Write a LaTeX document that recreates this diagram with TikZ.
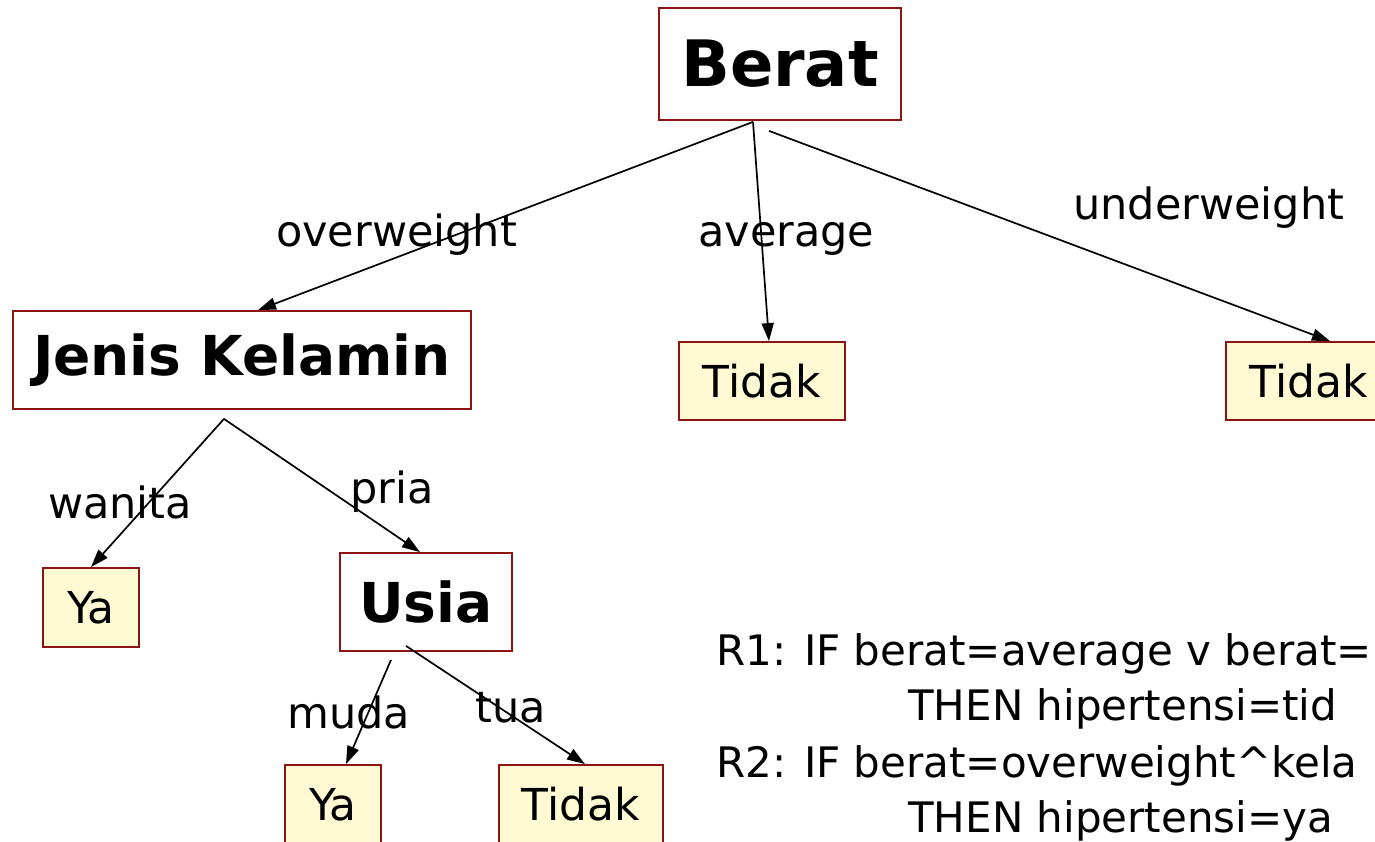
\documentclass[tikz,border=0pt]{standalone}
\usepackage{fontspec}
\setmainfont{DejaVu Sans}
\usetikzlibrary{arrows.meta,calc}
\definecolor{boxred}{HTML}{8E1414}
\definecolor{leafyel}{HTML}{FFF9D4}
\begin{document}
\begin{tikzpicture}[x=1pt,y=-1pt,
  inner/.style={draw=boxred,line width=1.8pt,fill=white,inner sep=0pt,font=\bfseries\fontsize{55}{60}\selectfont},
  leaf/.style={draw=boxred,line width=1.8pt,fill=leafyel,inner sep=0pt,font=\fontsize{44}{50}\selectfont,minimum width=96pt,minimum height=79pt},
  lbl/.style={anchor=base west,inner sep=0pt,font=\fontsize{43}{50}\selectfont},
  rule/.style={anchor=base west,inner sep=0pt,font=\fontsize{42}{50}\selectfont},
  conn/.style={line width=1.7pt,-{Triangle[length=18pt,width=12pt]}}]
\useasboundingbox (0,0) rectangle (1375,842);
\clip (0,0) rectangle (1375,842);
\fill[white] (0,0) rectangle (1375,842);
% nodes
\node[inner,minimum width=242pt,minimum height=112pt,font=\bfseries\fontsize{64}{70}\selectfont] (berat) at (780,64) {Berat};
\node[inner,minimum width=458pt,minimum height=98pt] (jenis) at (242,360) {Jenis Kelamin};
\node[leaf,minimum width=166pt,minimum height=78pt] (tidak1) at (762,381) {Tidak};
\node[leaf,minimum width=166pt,minimum height=78pt] (tidak2) at (1309,381) {Tidak};
\node[leaf] (ya1) at (91,607.5) {Ya};
\node[inner,minimum width=172pt,minimum height=98pt] (usia) at (426,602) {Usia};
\node[leaf] (ya2) at (333,804.5) {Ya};
\node[leaf,minimum width=164pt] (tidak3) at (581,804.5) {Tidak};
% connector start points
\coordinate (bs) at ($(berat.south)+(-27,1)$);
\coordinate (bs2) at ($(berat.south)+(-11,10)$);
\coordinate (js) at ($(jenis.south)+(-18,9)$);
\coordinate (us1) at ($(usia.south)+(-35,8)$);
\coordinate (us2) at ($(usia.south)+(-20,-6)$);
% connectors
\draw[conn] (bs) -- ($(jenis.north)+(16,0)$);
\draw[conn] (bs) -- ($(tidak1.north)+(7,0)$);
\draw[conn] (bs2) -- ($(tidak2.north)+(21,0)$);
\draw[conn] (js) -- (ya1.north);
\draw[conn] (js) -- ($(usia.north)+(-6,0)$);
\draw[conn] (us1) -- ($(ya2.north)+(13,0)$);
\draw[conn] (us2) -- ($(tidak3.north)+(4,0)$);
% labels
\node[lbl] (lov) at (276,247) {overweight};
\node[lbl] (lav) at (698,247) {average};
\node[lbl] (lun) at (1073,220) {underweight};
\node[lbl] (lwa) at (48,518) {wanita};
\node[lbl] (lpr) at (350,503) {pria};
\node[lbl] (lmu) at (287,728) {muda};
\node[lbl] (ltu) at (475,722) {tua};
% rules
\node[rule] (r1a) at (716,665) {R1: IF berat=average v berat=};
\node[rule] (r1b) at (908,720) {THEN hipertensi=tid};
\node[rule] (r2a) at (716,777) {R2: IF berat=overweight\textasciicircum kela};
\node[rule] (r2b) at (908,832) {THEN hipertensi=ya};
\end{tikzpicture}
\end{document}
